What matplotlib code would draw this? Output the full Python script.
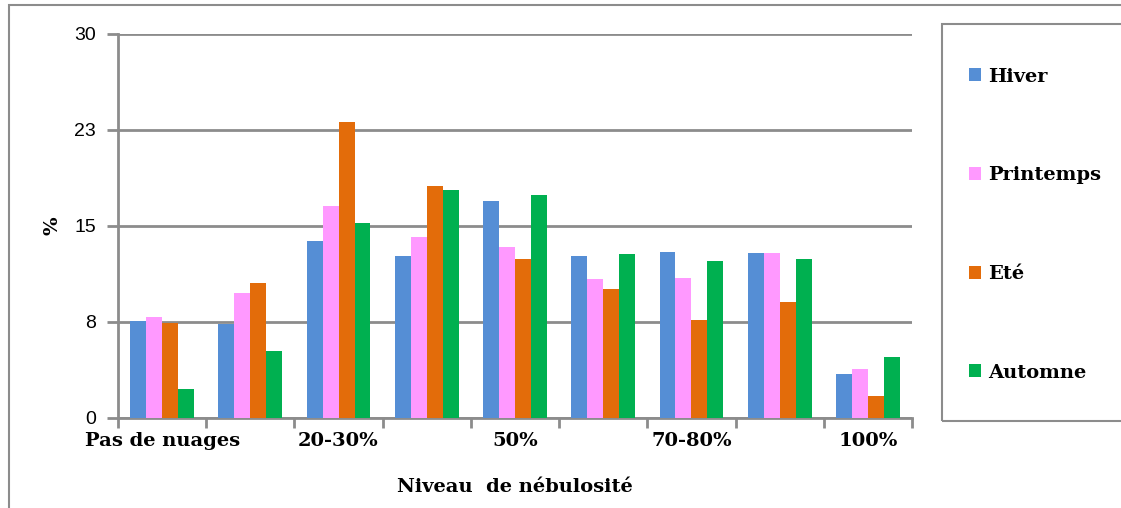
import matplotlib.pyplot as plt
import numpy as np
from matplotlib.patches import Rectangle

categories = ["Pas de nuages", "10%", "20-30%", "40%", "50%", "60%", "70-80%", "90%", "100%"]
shown_labels = ["Pas de nuages", "", "20-30%", "", "50%", "", "70-80%", "", "100%"]

hiver = [7.6, 7.35, 13.8, 12.65, 16.95, 12.65, 13.0, 12.9, 3.4]
printemps = [7.9, 9.75, 16.55, 14.15, 13.35, 10.85, 10.9, 12.9, 3.8]
ete = [7.45, 10.55, 23.1, 18.15, 12.45, 10.1, 7.65, 9.1, 1.75]
automne = [2.3, 5.2, 15.2, 17.8, 17.4, 12.85, 12.3, 12.4, 4.8]

series = [
    ("Hiver", hiver, "#558ed5"),
    ("Printemps", printemps, "#ff99ff"),
    ("Eté", ete, "#e36c0a"),
    ("Automne", automne, "#00b050"),
]

y_ticks = [0, 7.5, 15, 22.5, 30]
y_tick_labels = ["0", "8", "15", "23", "30"]

GRID = "#8c8c8c"
W, H = 1121, 508

fig = plt.figure(figsize=(W / 100, H / 100), dpi=100)
ax = fig.add_axes([118 / W, 1 - 418 / H, (912 - 118) / W, (418 - 34) / H])

x = np.arange(len(categories))
bar_w = 0.181
offsets = (np.arange(4) - 1.5) * bar_w
for (name, values, color), off in zip(series, offsets):
    ax.bar(x + off, values, width=bar_w, color=color, label=name, zorder=3)

ax.set_xlim(-0.5, len(categories) - 0.5)
ax.set_ylim(0, 30)
ax.set_yticks(y_ticks)
ax.set_yticklabels(y_tick_labels, fontsize=14, family="Liberation Sans")
ax.yaxis.grid(True, color=GRID, linewidth=2, zorder=0)
ax.tick_params(axis="y", length=8, width=2, color=GRID, pad=8)

# category labels at centres, tick marks at group boundaries
ax.set_xticks(x)
ax.set_xticklabels(shown_labels, fontsize=14, fontweight="bold", family="DejaVu Serif")
ax.tick_params(axis="x", length=0, pad=10)
ax.set_xticks(np.arange(len(categories) + 1) - 0.5, minor=True)
ax.tick_params(axis="x", which="minor", length=7, width=2, color=GRID)

for side in ["top", "right"]:
    ax.spines[side].set_visible(False)
for side in ["left", "bottom"]:
    ax.spines[side].set_color(GRID)
    ax.spines[side].set_linewidth(2)

ax.set_ylabel("%", fontsize=14, fontweight="bold", family="DejaVu Serif", labelpad=9)
ax.set_xlabel("Niveau  de nébulosité", fontsize=14, fontweight="bold",
              family="DejaVu Serif", labelpad=20)

# outer chart border
fig.patches.append(Rectangle((9 / W, -0.1), 1.2, 1 - 5 / H + 0.1, transform=fig.transFigure,
                             fill=False, edgecolor=GRID, linewidth=1.5))
# legend box
fig.patches.append(Rectangle((942 / W, 1 - 421 / H), 0.5, (421 - 24) / H, transform=fig.transFigure,
                             fill=False, edgecolor=GRID, linewidth=1.5))

fig.legend(loc="upper left", bbox_to_anchor=(951 / W, 1 - 50 / H), frameon=False,
           prop={"family": "DejaVu Serif", "weight": "bold", "size": 14},
           handlelength=0.65, handleheight=0.65, handletextpad=0.35, labelspacing=4.15)

fig.savefig("out.png", dpi=100)
